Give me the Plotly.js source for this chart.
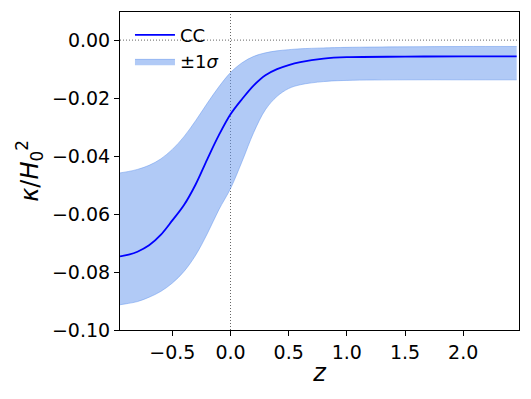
<!DOCTYPE html>
<html>
<head>
<meta charset="utf-8">
<script src="https://cdn.plot.ly/plotly-3.0.1.min.js"></script>
<style>
  html, body { margin: 0; padding: 0; background: #fff; }
  #plot { width: 531px; height: 399px; }
</style>
</head>
<body>
<div id="plot"></div>
<script>
const zVals = [-0.95, -0.875, -0.8, -0.7, -0.6, -0.5, -0.4, -0.3, -0.2, -0.1, 0.0, 0.1, 0.2, 0.3, 0.4, 0.5, 0.6, 0.8, 1.0, 1.5, 2.0, 2.46];
const kappaMean = [-0.0746, -0.0740, -0.0730, -0.0708, -0.0672, -0.0622, -0.0569, -0.0498, -0.0411, -0.0328, -0.0256, -0.0203, -0.0156, -0.0121, -0.0100, -0.0086, -0.0076, -0.0064, -0.0059, -0.0057, -0.0056, -0.0056];
const kappaUpper = [-0.0458, -0.0453, -0.0446, -0.0432, -0.0410, -0.0377, -0.0333, -0.0278, -0.0218, -0.0161, -0.0112, -0.0078, -0.0056, -0.0044, -0.0037, -0.0033, -0.0030, -0.0027, -0.0025, -0.0023, -0.0022, -0.0022];
const kappaLower = [-0.0913, -0.0908, -0.0902, -0.0887, -0.0867, -0.0838, -0.0798, -0.0742, -0.0668, -0.0585, -0.0512, -0.0418, -0.0318, -0.0240, -0.0194, -0.0167, -0.0154, -0.0143, -0.0139, -0.0137, -0.0137, -0.0137];

const xTicks = [-0.5, 0.0, 0.5, 1.0, 1.5, 2.0];
const yTicks = [-0.10, -0.08, -0.06, -0.04, -0.02, 0.00];

const bandColor = 'rgba(100, 149, 237, 0.5)';

const traceLower = {
  x: zVals,
  y: kappaLower,
  mode: 'lines',
  line: { color: bandColor, width: 1, shape: 'spline', smoothing: 1 },
  showlegend: false,
  hoverinfo: 'skip'
};

const traceUpper = {
  x: zVals,
  y: kappaUpper,
  mode: 'lines',
  fill: 'tonexty',
  fillcolor: bandColor,
  line: { color: bandColor, width: 1, shape: 'spline', smoothing: 1 },
  name: '±1<i>σ</i>'
};

const traceMean = {
  x: zVals,
  y: kappaMean,
  mode: 'lines',
  line: { color: '#0000ff', width: 1.8, shape: 'spline', smoothing: 1 },
  name: 'CC'
};

const layout = {
  width: 531,
  height: 399,
  margin: { l: 120, r: 12, t: 12, b: 69 },
  paper_bgcolor: '#fff',
  plot_bgcolor: '#fff',
  font: { family: 'DejaVu Sans', size: 19, color: '#000' },
  showlegend: true,
  legend: {
    x: 0.025, y: 0.985, xanchor: 'left', yanchor: 'top',
    bgcolor: 'rgba(0,0,0,0)', traceorder: 'reversed',
    font: { family: 'DejaVu Sans', size: 18, color: '#000' }, itemwidth: 40,
    tracegroupgap: 0
  },
  xaxis: {
    range: [-0.95, 2.48],
    tickvals: xTicks,
    ticktext: xTicks.map(v => v.toFixed(1).replace('-', '\u2212')),
    tickfont: { family: 'DejaVu Sans', size: 19, color: '#000' },
    ticks: 'outside', ticklen: 5, tickwidth: 1, tickcolor: '#000',
    showline: true, linecolor: '#000', linewidth: 1, mirror: true,
    showgrid: false, zeroline: false,
    title: { text: '<i>z</i>', font: { family: 'DejaVu Sans', size: 24 }, standoff: 2 }
  },
  yaxis: {
    range: [-0.1, 0.0097],
    tickvals: yTicks,
    ticktext: yTicks.map(v => v.toFixed(2).replace('-', '\u2212')),
    tickfont: { family: 'DejaVu Sans', size: 19, color: '#000' },
    ticks: 'outside', ticklen: 5, tickwidth: 1, tickcolor: '#000',
    showline: true, linecolor: '#000', linewidth: 1, mirror: true,
    showgrid: false, zeroline: false,
    title: { text: '<i>κ</i>/<i>H</i><sub>0</sub><sup>2</sup>', font: { family: 'DejaVu Sans', size: 24 }, standoff: 6 }
  },
  shapes: [
    { type: 'line', xref: 'x', yref: 'paper', x0: 0, x1: 0, y0: 0, y1: 1,
      line: { color: '#666', width: 1, dash: '1px,2px' }, layer: 'below' },
    { type: 'line', xref: 'paper', yref: 'y', x0: 0, x1: 1, y0: 0, y1: 0,
      line: { color: '#666', width: 1, dash: '1px,2px' }, layer: 'below' }
  ]
};

Plotly.newPlot('plot', [traceLower, traceUpper, traceMean], layout, { displayModeBar: false, staticPlot: true });
</script>
</body>
</html>
